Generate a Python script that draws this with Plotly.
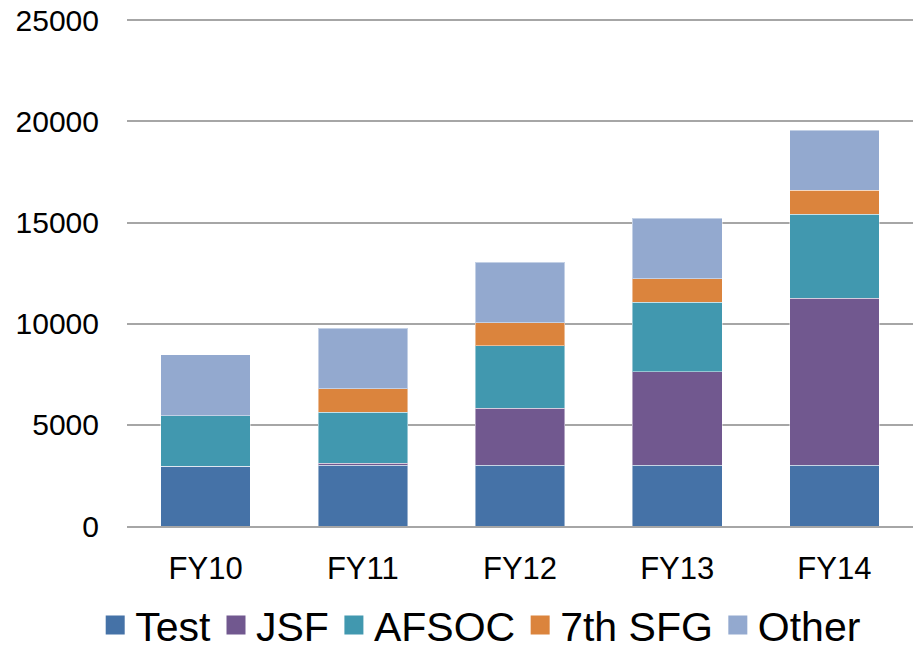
import plotly.graph_objects as go

categories = ["FY10", "FY11", "FY12", "FY13", "FY14"]
test = [2950, 3010, 3010, 3010, 3010]
jsf = [0, 100, 2800, 4620, 8240]
afsoc = [2510, 2510, 3090, 3440, 4150]
sfg7 = [0, 1160, 1140, 1160, 1190]
other = [3010, 3000, 3000, 2980, 2980]
y_ticks = [0, 5000, 10000, 15000, 20000, 25000]

series = [
    ("Test", test, "#4572A7"),
    ("JSF", jsf, "#71588F"),
    ("AFSOC", afsoc, "#4198AF"),
    ("7th SFG", sfg7, "#DB843D"),
    ("Other", other, "#93A9CF"),
]

fig = go.Figure()
for name, vals, color in series:
    fig.add_trace(go.Bar(
        x=categories, y=vals, name=name, legendgroup=name, showlegend=False,
        marker=dict(color=color, line=dict(color="rgba(255,255,255,0.45)", width=1)),
    ))
    # legend swatch
    fig.add_trace(go.Scatter(
        x=[None], y=[None], mode="markers", name=name, legendgroup=name,
        marker=dict(symbol="square", size=17, color=color,
                    line=dict(color=color, width=3)),
    ))

W, H = 913, 650
fig.update_layout(
    barmode="stack",
    bargap=0.43,
    width=W, height=H,
    margin=dict(l=127, r=0, t=19, b=124, autoexpand=False),
    plot_bgcolor="white", paper_bgcolor="white",
    font=dict(family="Liberation Sans, Arial, sans-serif", color="black"),
    showlegend=True,
    legend=dict(orientation="h", x=0.45, xanchor="center", y=-0.13, yanchor="top",
                font=dict(size=41), itemsizing="trace", itemwidth=30,
                traceorder="normal"),
)
fig.update_yaxes(range=[0, 25060], tickvals=y_ticks, ticktext=[str(v) for v in y_ticks],
                 showgrid=True, gridcolor="#A6A6A6", gridwidth=2,
                 tickfont=dict(size=30), ticklabelstandoff=27,
                 ticklabeloverflow="allow",
                 zeroline=False, showline=False)
fig.update_xaxes(showline=True, linecolor="#A6A6A6", linewidth=2,
                 tickfont=dict(size=31), ticks="", ticklabelstandoff=14)

fig.write_html("out.html", config={"displayModeBar": False},
               post_script="document.body.style.margin='0';document.body.style.overflow='hidden';")
